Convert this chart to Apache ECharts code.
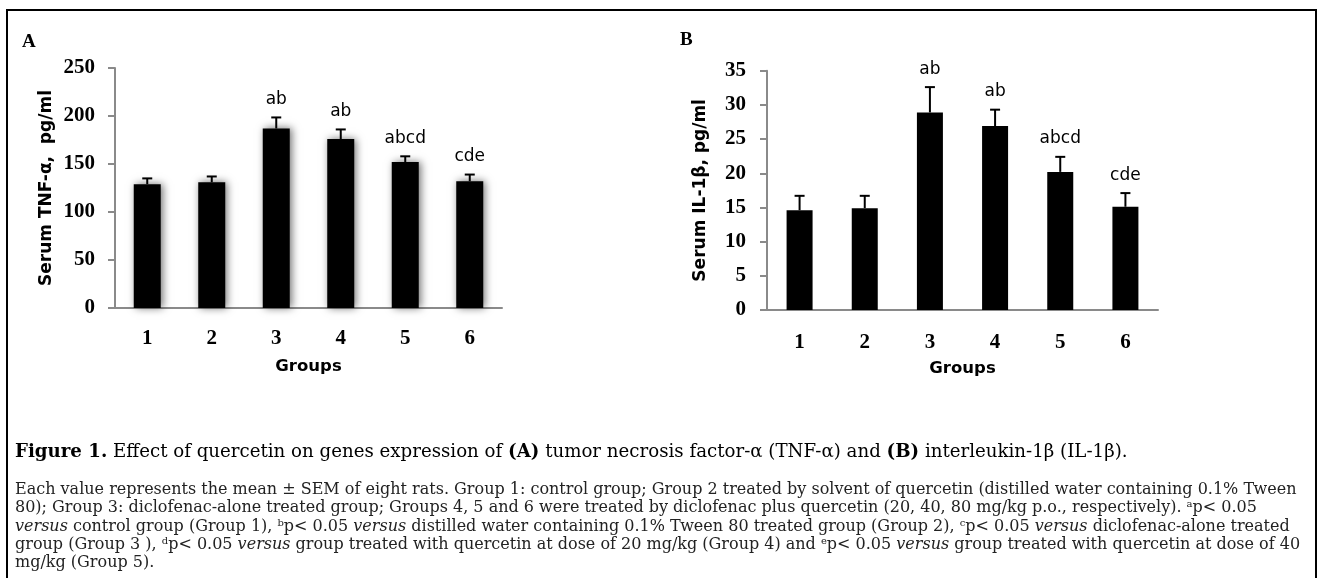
<!DOCTYPE html>
<html>
<head>
<meta charset="utf-8">
<script src="https://cdn.jsdelivr.net/npm/echarts@6/dist/echarts.min.js"></script>
<style>
html,body{margin:0;padding:0;background:#fff;}
#chart{width:1323px;height:578px;}
</style>
</head>
<body>
<div id="chart"></div>
<script>
// ---- data ----
const groups = ['1', '2', '3', '4', '5', '6'];
const tnfMean = [129, 131, 187, 176, 152, 132];
const tnfSem = [6, 6, 11.5, 10, 6, 7];
const il1Mean = [14.6, 14.9, 28.9, 26.9, 20.2, 15.1];
const il1Sem = [2.1, 1.8, 3.7, 2.4, 2.2, 2.0];
const sigLetters = ['', '', 'ab', 'ab', 'abcd', 'cde'];
const tnfAxis = { min: 0, max: 250, interval: 50 };
const il1Axis = { min: 0, max: 35, interval: 5 };

const captionLine = '{b|Figure 1.} Effect of quercetin on genes expression of {b|(A)} tumor necrosis factor-α (TNF-α) and {b|(B)} interleukin-1β (IL-1β).';
const noteLines = [
  'Each value represents the mean ± SEM of eight rats. Group 1: control group; Group 2 treated by solvent of quercetin (distilled water containing 0.1% Tween',
  '80); Group 3: diclofenac-alone treated group; Groups 4, 5 and 6 were treated by diclofenac plus quercetin (20, 40, 80 mg/kg p.o., respectively). {s|a}p< 0.05',
  '{i|versus} control group (Group 1), {s|b}p< 0.05 {i|versus} distilled water containing 0.1% Tween 80 treated group (Group 2), {s|c}p< 0.05 {i|versus} diclofenac-alone treated',
  'group (Group 3 ), {s|d}p< 0.05 {i|versus} group treated with quercetin at dose of 20 mg/kg (Group 4) and {s|e}p< 0.05 {i|versus} group treated with quercetin at dose of 40',
  'mg/kg (Group 5).'
];

// ---- styling ----
const axisGray = '#8a8a8a';
const tickFont = { fontFamily: 'Liberation Serif', fontWeight: 'bold', fontSize: 21, color: '#000' };
const nameFont = { fontFamily: 'DejaVu Sans', fontWeight: 'bold', fontSize: 17, color: '#000' };
const groupsFont = { fontFamily: 'DejaVu Sans', fontWeight: 'bold', fontSize: 16.5, color: '#000' };

function errRender(sem) {
  return function (params, api) {
    const idx = api.value(0);
    const m = api.value(1);
    const e = sem[params.dataIndex];
    const base = api.coord([idx, m]);
    const top = api.coord([idx, m + e]);
    const x = base[0];
    const cap = 5;
    const children = [
      { type: 'line', shape: { x1: x, y1: base[1], x2: x, y2: top[1] }, style: { stroke: '#000', lineWidth: 2 } },
      { type: 'line', shape: { x1: x - cap, y1: top[1], x2: x + cap, y2: top[1] }, style: { stroke: '#000', lineWidth: 2 } }
    ];
    const s = sigLetters[params.dataIndex];
    if (s) {
      children.push({
        type: 'text', x: x, y: top[1] - 18,
        style: { text: s, fontFamily: 'DejaVu Sans', fontSize: 17, fill: '#000', align: 'center', verticalAlign: 'middle' }
      });
    }
    return { type: 'group', children: children };
  };
}

function xAxisCfg(gridIndex, margin) {
  return {
    type: 'category', gridIndex: gridIndex, data: groups,
    axisLine: { lineStyle: { color: axisGray, width: 2 } },
    axisTick: { show: false },
    axisLabel: Object.assign({ margin: margin }, tickFont),
    name: 'Groups', nameLocation: 'middle', nameGap: 50,
    nameTextStyle: groupsFont
  };
}
function yAxisCfg(gridIndex, cfg, name, margin, gap) {
  return {
    type: 'value', gridIndex: gridIndex, min: cfg.min, max: cfg.max, interval: cfg.interval,
    axisLine: { show: true, lineStyle: { color: axisGray, width: 2 } },
    axisTick: { show: true, length: 7, lineStyle: { color: axisGray, width: 2 } },
    axisLabel: Object.assign({ margin: margin }, tickFont),
    splitLine: { show: false },
    name: name, nameLocation: 'middle', nameGap: gap, nameRotate: 90,
    nameTextStyle: nameFont
  };
}

const noteFont = 16;
const chart = echarts.init(document.getElementById('chart'), null, { renderer: 'canvas' });
const option = {
  backgroundColor: '#fff',
  animation: false,
  grid: [
    { left: 115, top: 68, width: 387, height: 240 },
    { left: 767, top: 70.7, width: 391, height: 239.3 }
  ],
  xAxis: [xAxisCfg(0, 20), xAxisCfg(1, 22)],
  yAxis: [
    yAxisCfg(0, tnfAxis, 'Serum TNF-α,  pg/ml', 20, 60),
    yAxisCfg(1, il1Axis, 'Serum IL-1β, pg/ml', 21, 58)
  ],
  series: [
    {
      type: 'bar', xAxisIndex: 0, yAxisIndex: 0, data: tnfMean, barWidth: 27,
      itemStyle: { color: '#000', shadowBlur: 8, shadowColor: 'rgba(0,0,0,0.55)', shadowOffsetX: 2 }
    },
    {
      type: 'custom', xAxisIndex: 0, yAxisIndex: 0, renderItem: errRender(tnfSem),
      data: tnfMean.map((v, i) => [i, v]), z: 5
    },
    {
      type: 'bar', xAxisIndex: 1, yAxisIndex: 1, data: il1Mean, barWidth: 26,
      itemStyle: { color: '#000' }
    },
    {
      type: 'custom', xAxisIndex: 1, yAxisIndex: 1, renderItem: errRender(il1Sem),
      data: il1Mean.map((v, i) => [i, v]), z: 5
    }
  ],
  graphic: [
    { type: 'rect', shape: { x: 7, y: 10, width: 1309, height: 600 }, style: { fill: 'none', stroke: '#000', lineWidth: 2 }, silent: true },
    { type: 'text', x: 22, y: 42, style: { text: 'A', fontFamily: 'Liberation Serif', fontWeight: 'bold', fontSize: 19, fill: '#000', verticalAlign: 'middle' } },
    { type: 'text', x: 680, y: 40, style: { text: 'B', fontFamily: 'Liberation Serif', fontWeight: 'bold', fontSize: 19, fill: '#000', verticalAlign: 'middle' } },
    {
      type: 'text', x: 15, y: 452,
      style: {
        text: captionLine, fontFamily: 'DejaVu Serif', fontSize: 18.2, fill: '#000', verticalAlign: 'middle',
        rich: { b: { fontFamily: 'DejaVu Serif', fontWeight: 'bold', fontSize: 18.2 } }
      }
    }
  ].concat(noteLines.map((t, i) => ({
    type: 'text', x: 15, y: 490 + i * 18.3,
    style: {
      text: t, fontFamily: 'DejaVu Serif', fontSize: noteFont, fill: '#222', verticalAlign: 'middle',
      rich: {
        i: { fontFamily: 'DejaVu Serif', fontStyle: 'italic', fontSize: noteFont, fill: '#222' },
        s: { fontFamily: 'DejaVu Serif', fontSize: 10, fill: '#222', padding: [0, 0, 7, 0] }
      }
    }
  })))
};
chart.setOption(option);
</script>
</body>
</html>
